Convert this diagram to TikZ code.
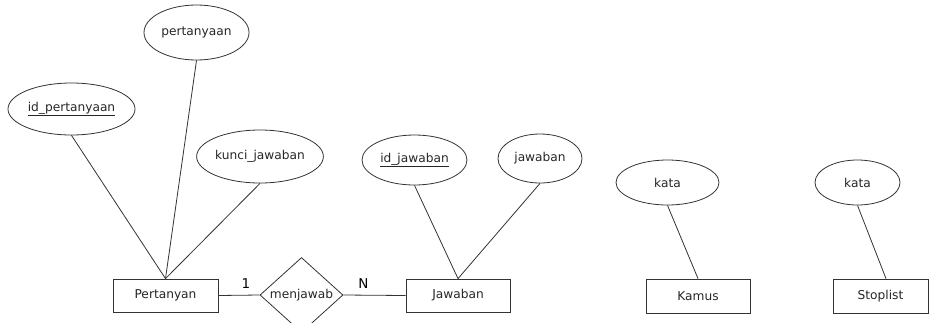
\documentclass[tikz,border=0pt]{standalone}
\usepackage{fontspec}
\setmainfont{DejaVu Sans}
\usetikzlibrary{shapes.geometric}
\begin{document}
\begin{tikzpicture}[x=1pt,y=-1pt,
  every node/.style={font=\fontsize{12.2}{14}\selectfont, text=black!85},
  conn/.style={draw=black!80, line width=0.8pt},
  attr/.style={ellipse, draw=black!80, line width=0.8pt, inner sep=0pt},
  entity/.style={rectangle, draw=black!80, line width=0.8pt, inner sep=0pt},
  rel/.style={diamond, draw=black!80, line width=0.8pt, inner sep=0pt},
  card/.style={font=\fontsize{13.5}{15}\selectfont, text=black}]
\useasboundingbox (0,0) rectangle (929,322);
% entities
\node[entity, minimum width=105pt, minimum height=33pt] (pertanyan) at (165.5,295.5) {Pertanyan};
\node[rel, minimum width=83pt, minimum height=56pt] (menjawab) at (301.5,295) {menjawab};
\node[entity, minimum width=104pt, minimum height=33pt] (jawabanbox) at (458,295.5) {Jawaban};
\node[entity, minimum width=104pt, minimum height=34pt] (kamus) at (698,296) {Kamus};
\node[entity, minimum width=95pt, minimum height=34pt] (stoplist) at (880.5,296) {Stoplist};
% attributes
\node[attr, minimum width=105pt, minimum height=55pt] (pertanyaan) at (196.5,32.5) {pertanyaan};
\node[attr, minimum width=127pt, minimum height=52pt] (idp) at (71.5,109) {\underline{id\_pertanyaan}};
\node[attr, minimum width=126pt, minimum height=53pt] (kunci) at (260,156.5) {kunci\_jawaban};
\node[attr, minimum width=105pt, minimum height=50pt] (idj) at (414.5,160) {\underline{id\_jawaban}};
\node[attr, minimum width=84pt, minimum height=49pt] (jaw) at (540,158.5) {jawaban};
\node[attr, minimum width=103pt, minimum height=45pt] (kata1) at (667.5,182.5) {kata};
\node[attr, minimum width=85pt, minimum height=45pt] (kata2) at (857.5,182.5) {kata};
% cardinalities
\node[card] (c1) at (246,284) {1};
\node[card] (cn) at (363.5,284) {N};
% connectors
\draw[conn] (idp.south) -- (pertanyan.north);
\draw[conn] (pertanyaan.south) -- (pertanyan.north);
\draw[conn] (kunci.south) -- (pertanyan.north);
\draw[conn] (pertanyan.east) -- (menjawab.west);
\draw[conn] (menjawab.east) -- (jawabanbox.west);
\draw[conn] (idj.south) -- (jawabanbox.north);
\draw[conn] (jaw.south) -- (jawabanbox.north);
\draw[conn] (kata1.south) -- (kamus.north);
\coordinate (stoptop) at ([xshift=5.5pt]stoplist.north);
\draw[conn] (kata2.south) -- (stoptop);
\end{tikzpicture}
\end{document}
